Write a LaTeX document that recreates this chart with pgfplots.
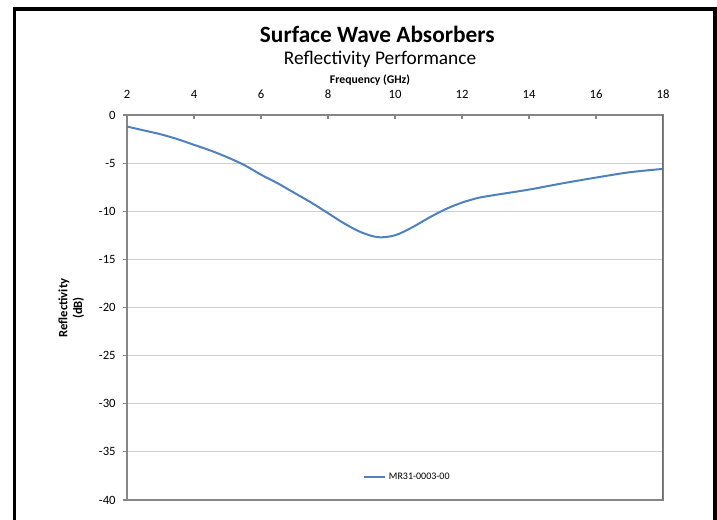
\documentclass[border=0pt]{standalone}
\usepackage{pgfplots}
\pgfplotsset{compat=1.18}
\usepackage{fontspec}
\setmainfont{Carlito}
\definecolor{serieblue}{HTML}{4F81BD}
\definecolor{axisgray}{HTML}{868686}
\definecolor{gridgray}{HTML}{CFCFCF}
\definecolor{edgegray}{HTML}{6A6A6A}
\begin{document}
\begin{tikzpicture}
\useasboundingbox (0pt,0pt) rectangle (537.75pt,390pt);
% outer chart frame (bottom edge runs off the page)
\draw[line width=2.6pt] (10.9pt,-20pt) rectangle (536.2pt,383.1pt);
\node[font=\fontsize{17.5}{20}\selectfont\bfseries] at (283pt,364.5pt) {Surface Wave Absorbers};
\node[font=\fontsize{14.5}{17}\selectfont] at (285pt,345.5pt) {Reflectivity Performance};
\node[font=\fontsize{8.8}{10}\selectfont\bfseries] at (277.5pt,330pt) {Frequency (GHz)};
\node[font=\fontsize{9.5}{11}\selectfont\bfseries, rotate=90, align=center] at (53.5pt,159pt) {Reflectivity\\(dB)};
\begin{axis}[
    at={(95.25pt,15pt)}, anchor=south west,
    scale only axis, width=402pt, height=288.75pt,
    xmin=2, xmax=18, ymin=-40, ymax=0,
    xtick={2,4,...,18},
    xticklabels={2,4,6,8,10,12,14,16,18},
    ytick={-40,-35,...,0},
    yticklabels={-40,-35,-30,-25,-20,-15,-10,-5,0},
    xtick pos=upper, xticklabel pos=upper,
    ytick pos=left, yticklabel pos=left,
    xtick align=inside, ytick align=outside,
    major tick length=3pt,
    axis line style={axisgray, line width=0.8pt},
    tick style={axisgray, line width=0.8pt},
    ymajorgrids, grid style={gridgray, line width=0.7pt},
    tick label style={font=\fontsize{9.5}{10}\selectfont, black},
    xticklabel style={yshift=8.5pt},
    yticklabel style={xshift=-2pt},
    legend style={at={(axis description cs:0.524,0.06)}, anchor=center,
        draw=none, fill=none, inner sep=0pt,
        font=\fontsize{7.5}{9}\selectfont},
    legend cell align=left,
    legend image code/.code={\draw[#1] (0cm,0cm) -- (0.55cm,0cm);},
]
\addplot[serieblue, line width=1.5pt, smooth] coordinates {
    (2,-1.2) (2.5,-1.6) (3,-2.0) (3.5,-2.5) (4,-3.1) (4.5,-3.7)
    (5,-4.4) (5.5,-5.2) (6,-6.2) (6.5,-7.1) (7,-8.1) (7.5,-9.1)
    (8,-10.2) (8.5,-11.3) (9,-12.2) (9.5,-12.7) (10,-12.5) (10.5,-11.7)
    (11,-10.7) (11.5,-9.8) (12,-9.1) (12.5,-8.6) (13,-8.3) (14,-7.75)
    (15,-7.1) (16,-6.5) (17,-5.95) (18,-5.6)
};
\addlegendentry{MR31-0003-00}
\draw[edgegray, line width=1.5pt] (axis cs:18,0) -- (axis cs:18,-40);
\end{axis}
\end{tikzpicture}
\end{document}
